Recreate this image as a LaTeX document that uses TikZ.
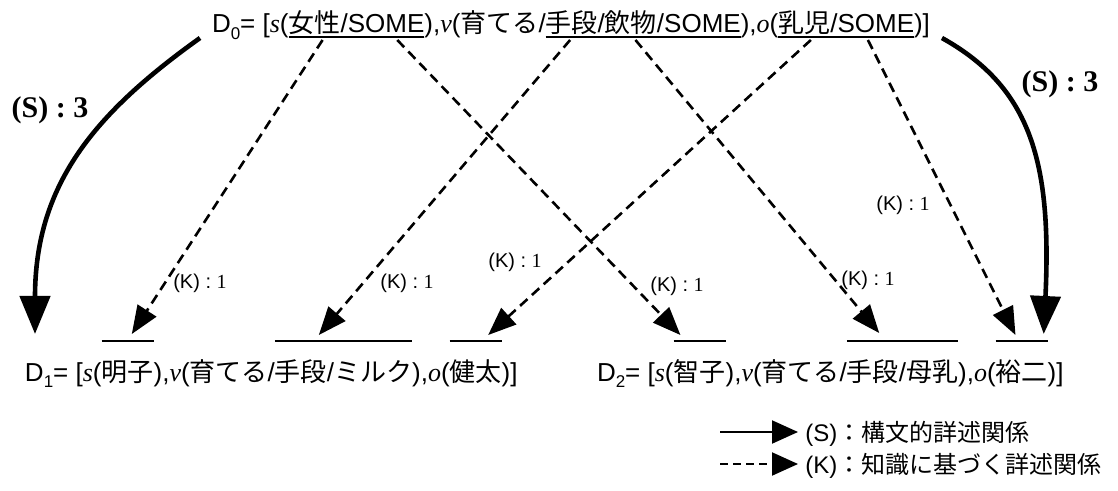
\documentclass[tikz,border=0pt]{standalone}
\usepackage{fontspec}
\setmainfont{Liberation Sans}
\newfontfamily\jpf{Noto Sans CJK JP}
\newfontfamily\serf{Liberation Serif}
\usetikzlibrary{arrows.meta,calc}
\newcommand{\vr}[1]{{\serf\itshape #1}}
\newcommand{\jp}[1]{{\jpf #1}}
\newcommand{\sbs}[1]{\raisebox{-0.25em}{\fontsize{8.5pt}{9pt}\selectfont #1}}
\begin{document}
\begin{tikzpicture}[x=0.5pt,y=-0.5pt,
  seg/.style={inner sep=0pt, outer sep=0pt, anchor=base west,
    font=\fontsize{13pt}{15pt}\selectfont, text height=11pt, text depth=2pt},
  uline/.style={line width=1pt},
  karrow/.style={line width=1.3pt, dash pattern=on 5pt off 3pt,
    -{Triangle[length=14pt,width=11pt]}},
  sarrow/.style={line width=2.3pt, -{Triangle[length=19pt,width=15pt]}},
  klabel/.style={inner sep=0pt, font=\fontsize{10pt}{12pt}\selectfont},
  slabel/.style={inner sep=0pt, font=\fontsize{15pt}{17pt}\selectfont\serf\bfseries},
  legtext/.style={inner sep=0pt, anchor=base west, font=\fontsize{12pt}{14pt}\selectfont},
  legs/.style={line width=1pt, -{Triangle[length=13pt,width=11.5pt]}},
  legk/.style={line width=1pt, dash pattern=on 4pt off 2.5pt, -{Triangle[length=13pt,width=11.5pt]}}
]
\useasboundingbox (0,0) rectangle (1118,491);

% D0 line
\node[seg] (a0) at (212,33) {D\sbs{0}= [\vr{s}(};
\node[seg] (b0) at (a0.base east) {\jp{女性}/SOME};
\node[seg] (c0) at (b0.base east) {),\vr{v}(\jp{育てる}/};
\node[seg] (d0) at (c0.base east) {\jp{手段}/\jp{飲物}/SOME};
\node[seg] (e0) at (d0.base east) {),\vr{o}(};
\node[seg] (f0) at (e0.base east) {\jp{乳児}/SOME};
\node[seg] (g0) at (f0.base east) {)]};
\foreach \n in {b0,d0,f0}
  \draw[uline] (\n.south west) -- (\n.south east);

% D1 line
\node[seg] (a1) at (25,381) {D\sbs{1}= [\vr{s}(};
\node[seg] (b1) at (a1.base east) {\jp{明子}};
\node[seg] (c1) at (b1.base east) {),\vr{v}(\jp{育てる}/};
\node[seg] (d1) at (c1.base east) {\jp{手段}/\jp{ミルク}};
\node[seg] (e1) at (d1.base east) {),\vr{o}(};
\node[seg] (f1) at (e1.base east) {\jp{健太}};
\node[seg] (g1) at (f1.base east) {)]};

% D2 line
\node[seg] (a2) at (597,381) {D\sbs{2}= [\vr{s}(};
\node[seg] (b2) at (a2.base east) {\jp{智子}};
\node[seg] (c2) at (b2.base east) {),\vr{v}(\jp{育てる}/};
\node[seg] (d2) at (c2.base east) {\jp{手段}/\jp{母乳}};
\node[seg] (e2) at (d2.base east) {),\vr{o}(};
\node[seg] (f2) at (e2.base east) {\jp{裕二}};
\node[seg] (g2) at (f2.base east) {)]};
\foreach \n in {b1,d1,f1,b2,d2,f2}
  \draw[uline] ([yshift=9pt]\n.north west) -- ([yshift=9pt]\n.north east);

% dashed arrow end points
\coordinate (s1) at ($(b0.south west)!0.25!(b0.south east)+(0,3)$);
\coordinate (s2) at ($(b0.south west)!0.80!(b0.south east)+(0,3)$);
\coordinate (s3) at ($(d0.south west)!0.125!(d0.south east)+(0,3)$);
\coordinate (s4) at ($(d0.south west)!0.46!(d0.south east)+(0,3)$);
\coordinate (s5) at ($(f0.south west)!0.24!(f0.south east)+(0,3)$);
\coordinate (s6) at ($(f0.south west)!0.66!(f0.south east)+(0,3)$);
\coordinate (t1) at ($(b1.north west)!0.58!(b1.north east)+(0,-25)$);
\coordinate (t2) at ($(b2.north west)!0.13!(b2.north east)+(0,-24)$);
\coordinate (t3) at ($(d1.north west)!0.32!(d1.north east)+(0,-24)$);
\coordinate (t4) at ($(d2.north west)!0.29!(d2.north east)+(0,-26)$);
\coordinate (t5) at ($(f1.north west)!0.74!(f1.north east)+(0,-24)$);
\coordinate (t6) at ($(f2.north west)!0.38!(f2.north east)+(0,-24)$);

\draw[karrow] (s1) -- (t1);
\draw[karrow] (s2) -- (t2);
\draw[karrow] (s3) -- (t3);
\draw[karrow] (s4) -- (t4);
\draw[karrow] (s5) -- (t5);
\draw[karrow] (s6) -- (t6);

% solid arrows
\coordinate (sl) at ($(a0.base west)+(-12,5)$);
\coordinate (tl) at ($(a1.north west)+(10,-25)$);
\coordinate (sr) at ($(g0.base east)+(12,5)$);
\coordinate (tr) at ($(f2.north east)+(-4,-25)$);
\draw[sarrow] (sl) .. controls +(-105,75) and +(0,-150) .. (tl);
\draw[sarrow] (sr) .. controls +(90,50) and +(8,-170) .. (tr);

% labels
\node[slabel] (ls3) at (50,110) {(S) : 3};
\node[slabel] (rs3) at (1060,84) {(S) : 3};
\node[klabel] (k1) at (200,283) {(K) : {\serf 1}};
\node[klabel] (k3) at (407,283) {(K) : {\serf 1}};
\node[klabel] (k5) at (515,262) {(K) : {\serf 1}};
\node[klabel] (k2) at (677,286) {(K) : {\serf 1}};
\node[klabel] (k4) at (868,280) {(K) : {\serf 1}};
\node[klabel] (k6) at (903,205) {(K) : {\serf 1}};

% legend
\node[legtext] (legS) at (805,441) {(S)\jp{：構文的詳述関係}};
\node[legtext] (legK) at (805,473) {(K)\jp{：知識に基づく詳述関係}};
\coordinate (lsa) at (720,432);
\coordinate (lsb) at (798,432);
\coordinate (lka) at (720,464);
\coordinate (lkb) at (798,464);
\draw[legs] (lsa) -- (lsb);
\draw[legk] (lka) -- (lkb);
\end{tikzpicture}
\end{document}
